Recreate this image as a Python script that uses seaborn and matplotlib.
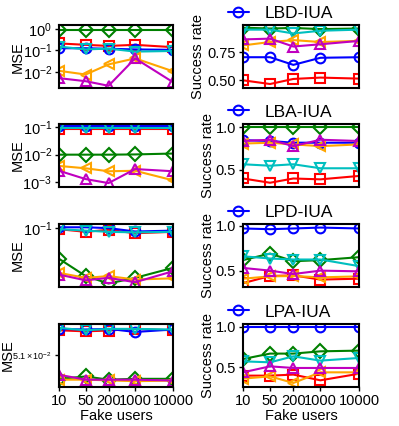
import numpy as np
import pandas as pd
import matplotlib
matplotlib.use("Agg")
import matplotlib.pyplot as plt
import seaborn as sns
from matplotlib.ticker import NullLocator, FixedLocator, FixedFormatter

# Data
fake_users = [10, 50, 200, 1000, 10000]
attacks = ["LBD-IUA", "LBA-IUA", "LPD-IUA", "LPA-IUA"]

# MSE panels (left column)
mse_lbd = {
    "blue": [0.125, 0.125, 0.118, 0.11, 0.105],
    "red": [0.21, 0.18, 0.16, 0.18, 0.14],
    "green": [0.93, 0.93, 0.93, 0.93, 0.93],
    "cyan": [0.15, 0.11, 0.12, 0.087, 0.093],
    "magenta": [0.005, 0.0036, 0.0022, 0.042, 0.0032],
    "orange": [0.011, 0.0074, 0.022, 0.042, 0.0104],
}
mse_lba = {
    "blue": [0.108, 0.108, 0.108, 0.108, 0.108],
    "red": [0.087, 0.087, 0.087, 0.087, 0.087],
    "green": [0.01, 0.01, 0.01, 0.0102, 0.011],
    "cyan": [0.092, 0.092, 0.092, 0.092, 0.092],
    "magenta": [0.0026, 0.0013, 0.00093, 0.003, 0.0025],
    "orange": [0.0039, 0.0032, 0.0025, 0.0026, 0.00117],
}
mse_lpd = {
    "blue": [0.101, 0.101, 0.100, 0.096, 0.097],
    "red": [0.0987, 0.0956, 0.098, 0.094, 0.0956],
    "green": [0.069, 0.056, 0.0512, 0.0548, 0.0619],
    "cyan": [0.0987, 0.097, 0.0956, 0.095, 0.0956],
    "magenta": [0.057, 0.0532, 0.0548, 0.052, 0.0594],
    "orange": [0.0582, 0.0548, 0.056, 0.0537, 0.0545],
}
mse_lpa = {
    "blue": [0.05226, 0.05223, 0.05226, 0.05211, 0.05223],
    "red": [0.05219, 0.05214, 0.05218, 0.05226, 0.05219],
    "green": [0.04988, 0.04999, 0.04984, 0.04988, 0.04988],
    "cyan": [0.05231, 0.05219, 0.05226, 0.05226, 0.05223],
    "magenta": [0.05007, 0.04984, 0.04984, 0.04984, 0.04980],
    "orange": [0.04984, 0.04984, 0.04981, 0.04977, 0.04980],
}

# Success rate panels (right column)
sr_lbd = {
    "blue": [0.705, 0.705, 0.637, 0.70, 0.705],
    "red": [0.50, 0.467, 0.512, 0.524, 0.515],
    "green": [0.967, 0.96, 0.965, 0.955, 0.96],
    "cyan": [0.95, 0.95, 0.916, 0.94, 0.95],
    "magenta": [0.863, 0.87, 0.80, 0.82, 0.85],
    "orange": [0.81, 0.84, 0.857, 0.84, 0.85],
}
sr_lba = {
    "blue": [0.85, 0.84, 0.82, 0.82, 0.82],
    "red": [0.40, 0.35, 0.40, 0.39, 0.43],
    "green": [1.0, 1.0, 1.0, 1.0, 1.0],
    "cyan": [0.567, 0.55, 0.567, 0.52, 0.52],
    "magenta": [0.84, 0.855, 0.78, 0.855, 0.84],
    "orange": [0.81, 0.82, 0.80, 0.78, 0.80],
}
sr_lpd = {
    "blue": [0.97, 0.962, 0.97, 0.98, 0.97],
    "red": [0.36, 0.44, 0.447, 0.40, 0.41],
    "green": [0.617, 0.69, 0.605, 0.617, 0.65],
    "cyan": [0.66, 0.635, 0.624, 0.624, 0.55],
    "magenta": [0.53, 0.50, 0.462, 0.50, 0.492],
    "orange": [0.41, 0.436, 0.44, 0.425, 0.436],
}
sr_lpa = {
    "blue": [1.0, 1.0, 1.0, 1.0, 1.0],
    "red": [0.397, 0.397, 0.41, 0.339, 0.421],
    "green": [0.603, 0.67, 0.67, 0.698, 0.707],
    "cyan": [0.574, 0.562, 0.636, 0.583, 0.616],
    "magenta": [0.438, 0.512, 0.492, 0.492, 0.492],
    "orange": [0.36, 0.388, 0.306, 0.438, 0.438],
}

# Series styles
colors = {"blue": "#0000ff", "red": "#ff0000", "green": "#008000",
          "cyan": "#00bfbf", "magenta": "#bf00bf", "orange": "#ffa500"}
markers = {"blue": "o", "red": "s", "green": "D",
           "cyan": "v", "magenta": "^", "orange": "<"}
order = ["green", "red", "blue", "cyan", "orange", "magenta"]

sns.set_style("ticks")
plt.rcParams["font.family"] = ["Liberation Sans", "DejaVu Sans"]
plt.rcParams["mathtext.fontset"] = "custom"
plt.rcParams["mathtext.rm"] = "Liberation Sans"
plt.rcParams["mathtext.it"] = "Liberation Sans:italic"
for k in ["text.color", "axes.labelcolor", "xtick.color", "ytick.color"]:
    plt.rcParams[k] = "black"

fig = plt.figure(figsize=(3.99, 4.26), dpi=100)

bottoms = [0.793, 0.561, 0.326, 0.0915]
h = 0.148
mse_panels = [mse_lbd, mse_lba, mse_lpd, mse_lpa]
sr_panels = [sr_lbd, sr_lba, sr_lpd, sr_lpa]


def draw(ax, panel, label):
    for key in order:
        df = pd.DataFrame({"users": fake_users, "value": panel[key]})
        sns.lineplot(data=df, x="users", y="value", ax=ax, color=colors[key],
                     marker=markers[key], markersize=7, markerfacecolor="none",
                     markeredgecolor=colors[key], markeredgewidth=1.5,
                     linewidth=1.5, label=label if key == "blue" else None,
                     legend=False)
    ax.set_xscale("log")
    ax.set_xlim(10, 10000)
    for s in ax.spines.values():
        s.set_linewidth(1.5)
        s.set_color("black")
    ax.tick_params(axis="both", labelsize=10.5, length=3, width=1, pad=2)
    ax.xaxis.set_minor_locator(NullLocator())
    ax.set_xticks(fake_users)
    ax.set_xticklabels([str(u) for u in fake_users])


for i in range(4):
    axl = fig.add_axes([0.148, bottoms[i], 0.286, h])
    axr = fig.add_axes([0.609, bottoms[i], 0.291, h])
    draw(axl, mse_panels[i], None)
    draw(axr, sr_panels[i], attacks[i])

    axl.set_yscale("log")
    axl.set_ylabel("MSE", fontsize=10.5)
    axr.set_ylabel("Success rate", fontsize=10.5)
    axl.yaxis.set_label_coords(-0.30, 0.5)
    axr.yaxis.set_label_coords(-0.24, 0.5)

    if i == 0:
        axl.set_ylim(1.7e-3, 1.5)
        axl.set_yticks([1e-2, 1e-1, 1e0])
        axr.set_ylim(0.43, 0.99)
        axr.set_yticks([0.5, 0.75])
        axr.set_yticklabels(["0.50", "0.75"])
        axr.yaxis.set_label_coords(-0.33, 0.5)
    elif i == 1:
        axl.set_ylim(6.7e-4, 0.13)
        axl.set_yticks([1e-3, 1e-2, 1e-1])
        axr.set_ylim(0.30, 1.04)
        axr.set_yticks([0.5, 1.0])
    elif i == 2:
        axl.set_ylim(0.049, 0.105)
        axl.set_yticks([1e-1])
        axr.set_ylim(0.316, 1.019)
        axr.set_yticks([0.5, 1.0])
    else:
        axl.set_ylim(0.0495, 0.0525)
        axl.yaxis.set_major_locator(FixedLocator([0.051]))
        axl.yaxis.set_major_formatter(FixedFormatter([r"$5.1\times10^{-2}$"]))
        axl.tick_params(axis="y", labelsize=6.5)
        axl.yaxis.set_label_coords(-0.39, 0.5)
        axr.set_ylim(0.256, 1.037)
        axr.set_yticks([0.5, 1.0])
    axl.yaxis.set_minor_locator(NullLocator())

    if i < 3:
        for ax in (axl, axr):
            ax.tick_params(axis="x", labelbottom=False, length=0)
            ax.set_xlabel("")
    else:
        for ax in (axl, axr):
            ax.set_xlabel("Fake users", fontsize=10.5, labelpad=1)

    axr.legend(loc="center left", bbox_to_anchor=(-0.13, 1.19), frameon=False,
               fontsize=12.5, handlelength=1.2, handletextpad=0.9,
               borderpad=0, borderaxespad=0)

fig.savefig("out.png", dpi=100)
